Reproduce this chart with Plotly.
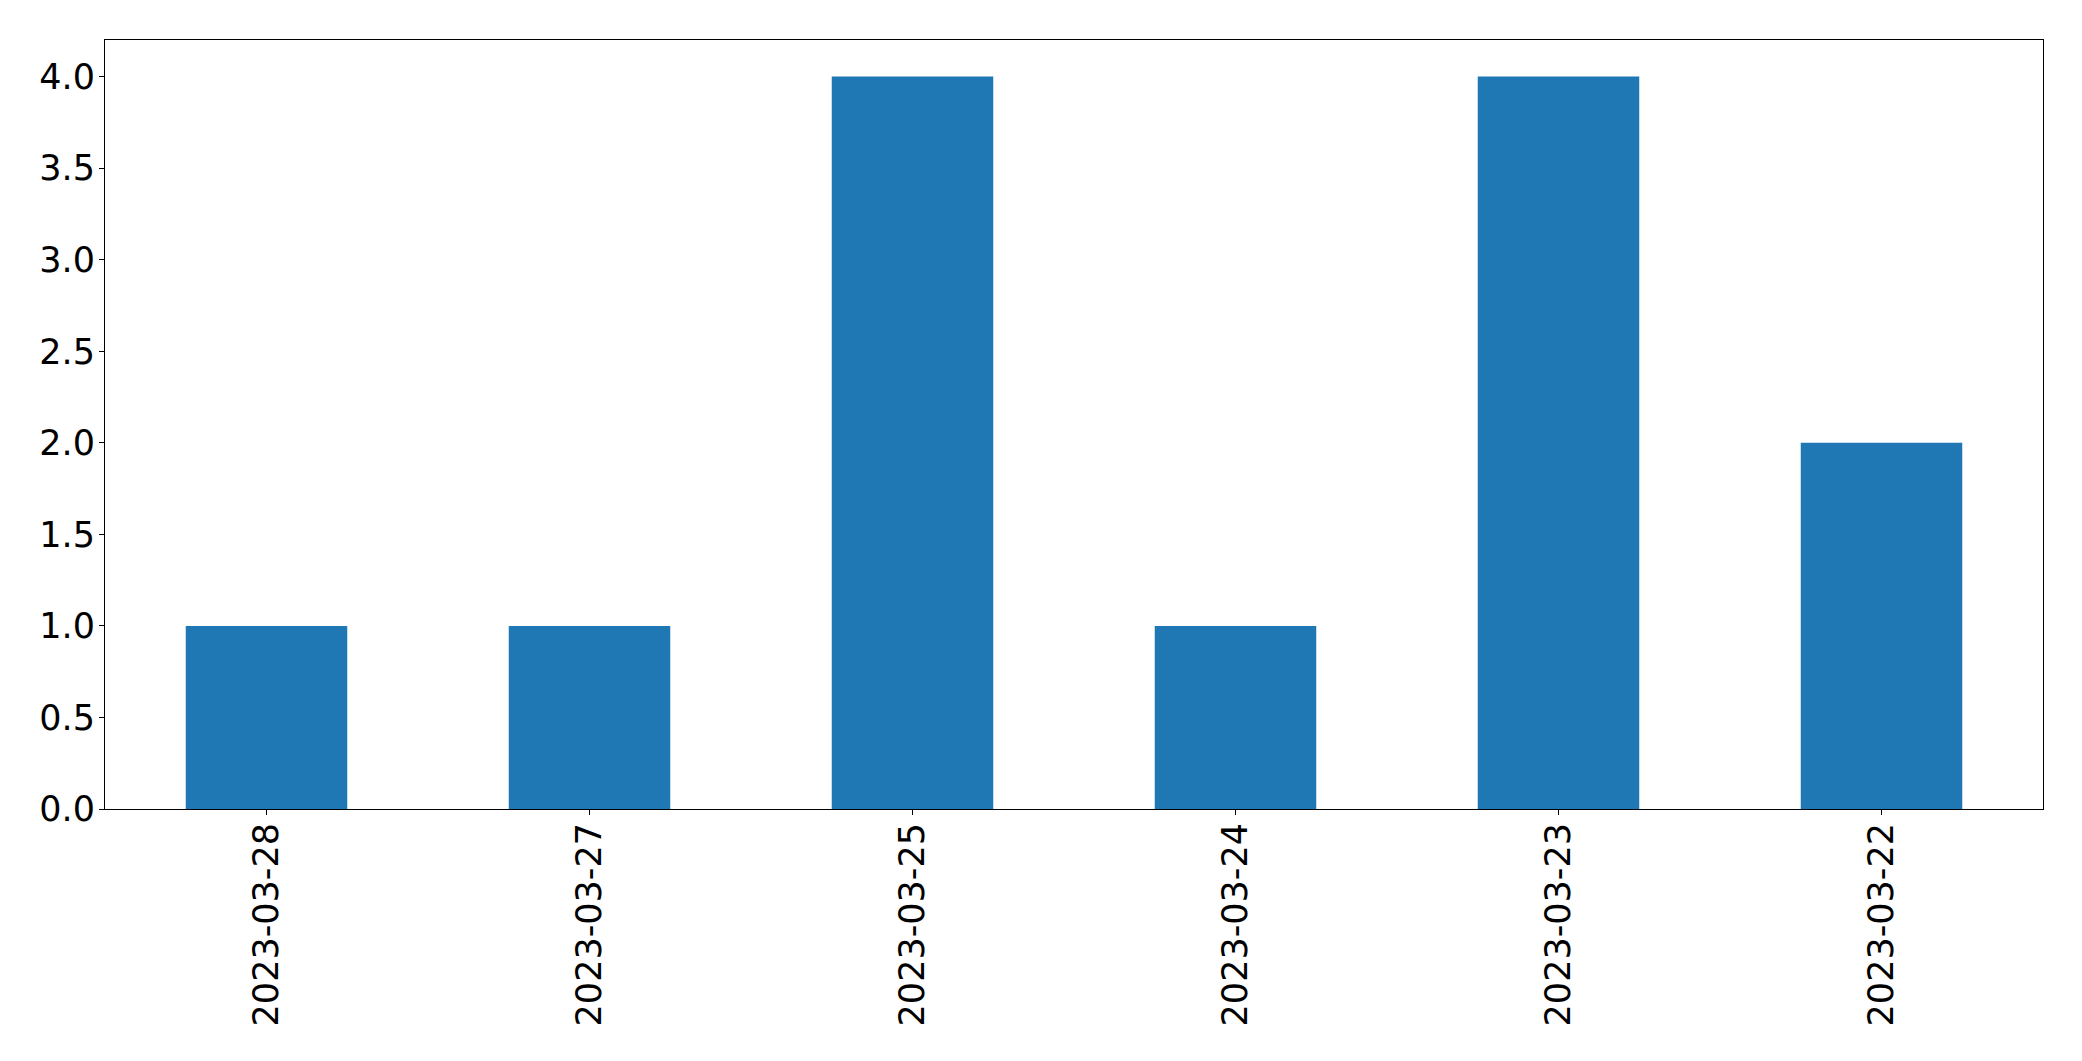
import plotly.graph_objects as go

dates = ["2023-03-28", "2023-03-27", "2023-03-25", "2023-03-24", "2023-03-23", "2023-03-22"]
counts = [1, 1, 4, 1, 4, 2]
y_ticks = [0.0, 0.5, 1.0, 1.5, 2.0, 2.5, 3.0, 3.5, 4.0]
y_tick_labels = ["0.0", "0.5", "1.0", "1.5", "2.0", "2.5", "3.0", "3.5", "4.0"]

fig = go.Figure(go.Bar(x=dates, y=counts, marker=dict(color="#1f77b4", line=dict(width=0)), width=0.5))

fig.update_layout(
    width=2074, height=1053,
    margin=dict(l=97, r=39, t=32, b=251.5),
    plot_bgcolor="white", paper_bgcolor="white",
    font=dict(family="DejaVu Sans", size=35, color="black"),
    showlegend=False,
)
fig.update_xaxes(
    type="category", range=[-0.5, 5.5], tickangle=-90,
    showline=True, linecolor="black", linewidth=1, mirror=True,
    ticks="outside", ticklen=5, tickcolor="black", tickwidth=1,
    showgrid=False, zeroline=False, ticklabelstandoff=-6,
)
fig.update_yaxes(
    range=[0, 4.2], tickvals=y_ticks, ticktext=y_tick_labels,
    showline=True, linecolor="black", linewidth=1, mirror=True,
    ticks="outside", ticklen=5, tickcolor="black", tickwidth=1,
    showgrid=False, zeroline=False, ticklabelstandoff=-3,
)

fig.write_html("out.html")
